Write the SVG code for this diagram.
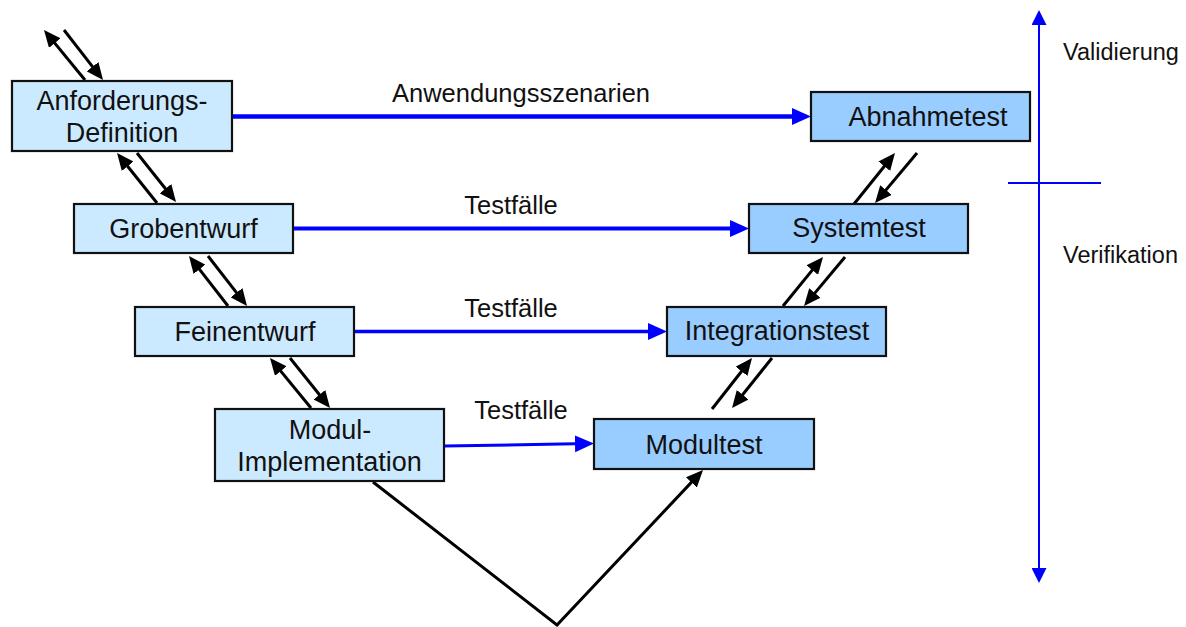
<svg xmlns="http://www.w3.org/2000/svg" width="1186" height="627" viewBox="0 0 1186 627">
<style>
text{font-family:"Liberation Sans",Arial,sans-serif;fill:#111;}
.nl{font-size:27px;text-anchor:middle;}
.el{font-size:25.5px;text-anchor:middle;}
.sl{font-size:23.5px;}
.lb{fill:#cceaff;stroke:#111;stroke-width:2.2;}
.rb{fill:#99ccff;stroke:#111;stroke-width:2.2;}
.ba{stroke:#000;stroke-width:3;fill:none;marker-end:url(#ah);}
.bl{stroke:#0000ff;fill:none;marker-end:url(#bh);}
</style>
<defs>
<marker id="ah" markerUnits="userSpaceOnUse" markerWidth="17" markerHeight="15" refX="11" refY="7.5" orient="auto" viewBox="0 0 17 15">
<path d="M0,0 L17,7.5 L0,15 z" fill="#000"/>
</marker>
<marker id="bh" markerUnits="userSpaceOnUse" markerWidth="19" markerHeight="18" refX="13" refY="8.5" orient="auto" viewBox="0 0 19 17">
<path d="M0,0 L19,8.5 L0,17 z" fill="#0000ff"/>
</marker>
<marker id="vh" markerUnits="userSpaceOnUse" markerWidth="15" markerHeight="15" refX="11" refY="7.5" orient="auto-start-reverse" viewBox="0 0 15 15">
<path d="M0,0 L15,7.5 L0,15 z" fill="#0000ff"/>
</marker>
</defs>

<g id="connectors">
<!-- left side pairs -->
<line class="ba" x1="85" y1="80" x2="47.8" y2="34.6"/>
<line class="ba" x1="64" y1="30" x2="99.3" y2="75.3"/>
<line class="ba" x1="157" y1="203" x2="120.8" y2="157.7"/>
<line class="ba" x1="137" y1="153" x2="172.3" y2="197.3"/>
<line class="ba" x1="228" y1="306" x2="192.7" y2="260.7"/>
<line class="ba" x1="208" y1="256" x2="243.3" y2="301.3"/>
<line class="ba" x1="311" y1="408" x2="273.8" y2="362.6"/>
<line class="ba" x1="290" y1="358" x2="326.3" y2="403.3"/>
<!-- right side pairs -->
<line class="ba" x1="712" y1="409" x2="748.3" y2="362.7"/>
<line class="ba" x1="772" y1="358" x2="735.8" y2="403.3"/>
<line class="ba" x1="783" y1="306" x2="819.2" y2="261.6"/>
<line class="ba" x1="845" y1="257" x2="807.9" y2="301.4"/>
<line class="ba" x1="854" y1="204" x2="891.2" y2="157.7"/>
<line class="ba" x1="917" y1="153" x2="878.9" y2="198.4"/>
<!-- V -->
<path class="ba" d="M373,482 L557,625 L698.9,474.4"/>
<!-- blue test arrows -->
<line class="bl" stroke-width="4.5" x1="232" y1="116.5" x2="805" y2="116.5"/>
<line class="bl" stroke-width="4" x1="293" y1="228.5" x2="743" y2="228.5"/>
<line class="bl" stroke-width="3.5" x1="354" y1="331.5" x2="661" y2="331.5"/>
<line class="bl" stroke-width="3" x1="444" y1="446" x2="588" y2="443.6"/>
<!-- labels -->
<text class="el" x="521" y="102">Anwendungsszenarien</text>
<text class="el" x="511" y="214">Testfälle</text>
<text class="el" x="511" y="317">Testfälle</text>
<text class="el" x="521" y="419">Testfälle</text>
</g>

<g id="axis">
<line x1="1039" y1="14" x2="1039" y2="579" stroke="#0000ff" stroke-width="2" marker-start="url(#vh)" marker-end="url(#vh)"/>
<line x1="1008" y1="183" x2="1101" y2="183" stroke="#0000ff" stroke-width="2"/>
<text class="sl" x="1063" y="60">Validierung</text>
<text class="sl" x="1063" y="263">Verifikation</text>
</g>

<g id="anforderung">
<rect class="lb" x="12" y="81" width="220" height="70"/>
<text class="nl" x="122" y="110">Anforderungs-</text>
<text class="nl" x="122" y="142">Definition</text>
</g>
<g id="grobentwurf">
<rect class="lb" x="74" y="204" width="219" height="49"/>
<text class="nl" x="183.5" y="238">Grobentwurf</text>
</g>
<g id="feinentwurf">
<rect class="lb" x="135" y="307" width="219" height="49"/>
<text class="nl" x="245" y="341">Feinentwurf</text>
</g>
<g id="modul">
<rect class="lb" x="215" y="409" width="229" height="72"/>
<text class="nl" x="330" y="439">Modul-</text>
<text class="nl" x="329.5" y="471">Implementation</text>
</g>
<g id="modultest">
<rect class="rb" x="594" y="419" width="220" height="50"/>
<text class="nl" x="704" y="454">Modultest</text>
</g>
<g id="integrationstest">
<rect class="rb" x="667" y="307" width="219" height="49"/>
<text class="nl" x="777" y="340">Integrationstest</text>
</g>
<g id="systemtest">
<rect class="rb" x="749" y="204" width="219" height="49"/>
<text class="nl" x="859" y="237">Systemtest</text>
</g>
<g id="abnahmetest">
<rect class="rb" x="811" y="92" width="219" height="49"/>
<text class="nl" x="928" y="126">Abnahmetest</text>
</g>
</svg>
